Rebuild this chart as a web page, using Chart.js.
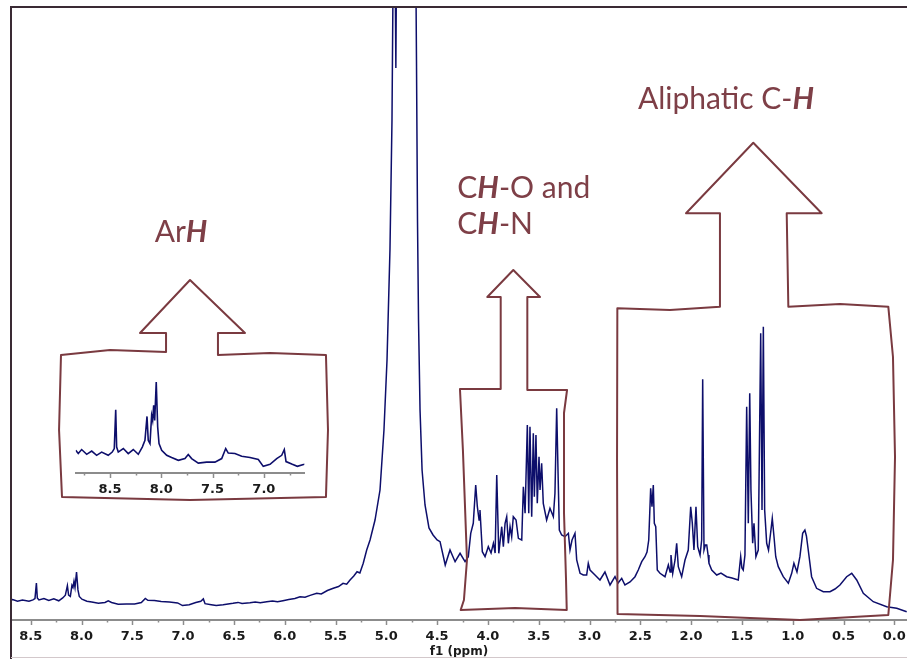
<!DOCTYPE html>
<html>
<head>
<meta charset="utf-8">
<title>1H NMR spectrum</title>
<script src="https://cdn.jsdelivr.net/npm/chart.js@4.4.1/dist/chart.umd.min.js"></script>
<style>
  html, body { margin: 0; padding: 0; background: #fff; }
  #wrap { position: relative; width: 907px; height: 659px; overflow: hidden; }
  #main  { position: absolute; left: 0; top: 0; }
  #inset { position: absolute; left: 70px; top: 360px; }
</style>
</head>
<body>
<div id="wrap">
  <canvas id="main" width="907" height="659"></canvas>
  <canvas id="inset" width="245" height="140"></canvas>
</div>
<script>
// ─────────────────────────────────────────────────────────────
// DATA  (chemical shift in ppm, intensity in arbitrary units)
// ─────────────────────────────────────────────────────────────
const SHIFT_PPM = [
  8.834, 8.809, 8.776, 8.727, 8.678, 8.63, 8.581, 8.517, 8.478, 8.458,
  8.444, 8.435, 8.419, 8.37, 8.322, 8.273, 8.224, 8.185, 8.159, 8.139,
  8.127, 8.11, 8.094, 8.084, 8.074, 8.064, 8.049, 8.035, 8.022, 7.996,
  7.947, 7.899, 7.834, 7.769, 7.737, 7.704, 7.639, 7.558, 7.477, 7.411,
  7.372, 7.347, 7.282, 7.216, 7.135, 7.054, 7.006, 6.94, 6.875, 6.826,
  6.801, 6.784, 6.723, 6.674, 6.606,
  6.509, 6.46, 6.42, 6.342, 6.29, 6.24, 6.177, 6.12, 6.07, 6.017,
  5.96, 5.9, 5.849, 5.8, 5.75, 5.685, 5.64, 5.58, 5.522, 5.47,
  5.426, 5.39, 5.357, 5.32, 5.288, 5.26, 5.227, 5.193, 5.16, 5.111,
  5.062, 5.023, 4.993, 4.964, 4.944, 4.929, 4.92, 4.912, 4.906, 4.90,
  4.89, 4.85, 4.80, 4.75, 4.72, 4.703, 4.693, 4.683, 4.668, 4.648,
  4.619, 4.58, 4.54, 4.50, 4.471, 4.42, 4.373, 4.323, 4.274, 4.225,
  4.193, 4.169, 4.144, 4.12, 4.104, 4.087, 4.078, 4.055, 4.028, 3.996,
  3.969, 3.946, 3.929, 3.913, 3.893, 3.864, 3.848, 3.831, 3.815, 3.799,
  3.782, 3.766, 3.75, 3.723, 3.70, 3.667, 3.651, 3.634, 3.612, 3.598,
  3.586, 3.569, 3.553, 3.543, 3.527, 3.514, 3.497, 3.487, 3.471, 3.455,
  3.422, 3.389, 3.356, 3.34, 3.323, 3.308, 3.297, 3.274, 3.241, 3.208,
  3.192, 3.172, 3.143, 3.126, 3.093, 3.061, 3.028, 3.012, 2.995, 2.946,
  2.897, 2.848, 2.798, 2.749, 2.719, 2.683, 2.651, 2.601, 2.552, 2.52,
  2.486, 2.454, 2.434, 2.417, 2.398, 2.385, 2.372, 2.362, 2.348, 2.333,
  2.306, 2.257, 2.224, 2.207, 2.198, 2.181, 2.158, 2.142, 2.126, 2.093,
  2.06, 2.028, 2.004, 1.988, 1.972, 1.952, 1.935, 1.912, 1.896, 1.886,
  1.873, 1.86, 1.846, 1.833, 1.824, 1.797, 1.748, 1.706, 1.65, 1.598,
  1.536, 1.512, 1.50, 1.487, 1.47, 1.453, 1.437, 1.423, 1.411, 1.394,
  1.381, 1.362, 1.339, 1.315, 1.302, 1.289, 1.276, 1.256, 1.238, 1.214,
  1.201, 1.184, 1.167, 1.142, 1.093, 1.043, 1.01, 0.988, 0.958, 0.929,
  0.902, 0.88, 0.865, 0.847, 0.814, 0.765, 0.699, 0.633, 0.584, 0.535,
  0.469, 0.419, 0.37, 0.305, 0.207, 0.075, -0.024, -0.122
];

const INTENSITY = [
  20.8, 19.5, 21.1, 19.2, 20.5, 18.8, 20.1, 18.8, 20.1, 21.5,
  37.0, 22.1, 20.1, 21.5, 19.5, 21.1, 19.2, 22.1, 24.8, 34.3,
  24.8, 23.5, 34.7, 32.7, 38.7, 32.7, 48.0, 30.1, 23.5, 20.8,
  18.8, 17.9, 16.8, 17.5, 19.1, 17.5, 15.7, 16.1, 16.1, 17.5,
  21.5, 19.7, 19.5, 18.4, 17.9, 17.1, 14.4, 15.2, 17.5, 18.8,
  21.1, 16.3, 15.2, 14.4, 15.2,
  16.7, 17.6, 16.5, 17.3, 18.1, 17.2, 18.3, 19.0, 18.2, 19.3,
  20.6, 21.5, 23.3, 22.8, 24.6, 26.7, 26.1, 29.5, 31.7, 33.5,
  36.7, 35.8, 40, 44, 48.3, 47, 56.7, 70, 80, 100,
  130, 190, 260, 370, 500, 700, 900, 640, 552, 650,
  900, 1200, 1300, 1100, 800, 560, 400, 300, 210, 150,
  115, 92, 85, 80, 78.3, 55, 70, 58.3, 66.7, 58.3,
  63.3, 86.7, 96.7, 135, 113.3, 100, 110, 68.3, 63.3, 73.3,
  67, 76.7, 67, 145, 66.7, 93.3, 73.3, 96.7, 103.3, 76.7,
  93.3, 83.3, 103.3, 100, 81.7, 80, 133.3, 106.7, 195, 106.7,
  193.3, 103.3, 186.7, 123.3, 185, 116.7, 163.3, 130, 156.7, 116.7,
  100, 111.7, 103.3, 126.7, 211.7, 140, 90, 85, 83.3, 86.7,
  70, 80, 86.7, 60, 46.7, 45, 45, 56.7, 50, 45,
  40, 48, 35, 43.3, 37, 41.7, 35, 38, 43.3, 50,
  58.3, 63.3, 68, 80, 131.7, 113.3, 135, 96.7, 93.3, 50,
  46.7, 43.3, 55, 48, 65, 46.7, 60, 76.7, 53.3, 43.3,
  60, 70, 113.3, 96.7, 70, 113.3, 73.3, 65, 80, 240.7,
  70, 75, 75, 65, 56.7, 50, 45, 47, 43.3, 42,
  40, 63.3, 52, 50, 65, 213.3, 96.7, 226.7, 130, 76.7,
  96.7, 63.3, 70, 286.7, 110, 293.3, 110, 76.7, 70, 90,
  101.7, 83.3, 63.3, 53.3, 43.3, 36.7, 46.7, 56.7, 48, 63.3,
  86.7, 90, 84, 70, 43.3, 31.7, 28.3, 28.3, 31, 35,
  43.3, 46.7, 40, 26.7, 18.3, 13.3, 11.7, 8.3
];

// labelled x ticks (ppm)
const MAIN_TICKS  = [8.5, 8.0, 7.5, 7.0, 6.5, 6.0, 5.5, 5.0, 4.5, 4.0, 3.5, 3.0, 2.5, 2.0, 1.5, 1.0, 0.5, 0.0];
const INSET_TICKS = [8.5, 8.0, 7.5, 7.0];

// ─────────────────────────────────────────────────────────────
// ANNOTATIONS (outlines given in ppm / intensity units)
// ─────────────────────────────────────────────────────────────
const ARH_CALLOUT = [
  [7.168, 268], [7.719, 270], [8.202, 265], [8.221, 190], [8.192, 123],
  [6.932, 120], [5.594, 123], [5.574, 190], [5.594, 265], [6.145, 267],
  [6.657, 265], [6.657, 287], [6.391, 287], [6.932, 340], [7.424, 287],
  [7.168, 287]
];
const CHO_CALLOUT = [
  [3.874, 231], [4.275, 231], [4.246, 170], [4.206, 60], [4.236, 20],
  [4.268, 10], [3.733, 12], [3.224, 10], [3.231, 40], [3.251, 107],
  [3.251, 207], [3.221, 230], [3.612, 230], [3.612, 323], [3.487, 323],
  [3.75, 350], [4.006, 323], [3.874, 323]
];
const ALIPH_CALLOUT = [
  [1.716, 313.3], [2.208, 310], [2.726, 311.7], [2.729, 160], [2.724, 6],
  [1.912, 4], [0.928, 0], [0.059, 5], [0.013, 60], [-0.007, 163],
  [0.013, 263], [0.059, 313.3], [0.534, 316], [1.043, 313.3], [1.059, 406.7],
  [0.715, 406.7], [1.388, 477.3], [2.05, 406.7], [1.716, 406.7]
];

const LABELS = [
  { ppm: 7.021, v: 378,   align: 'center', runs: [['Ar', 0], ['H', 1]] },
  { ppm: 4.301, v: 421.7, align: 'left',   runs: [['C', 0], ['H', 1], ['-O and', 0]] },
  { ppm: 4.301, v: 386,   align: 'left',   runs: [['C', 0], ['H', 1], ['-N', 0]] },
  { ppm: 2.523, v: 510.7, align: 'left',   runs: [['Aliphatic C-', 0], ['H', 1]] }
];

// ─────────────────────────────────────────────────────────────
// STYLE
// ─────────────────────────────────────────────────────────────
const LINE_COLOR    = '#0d0e6b';
const CALLOUT_COLOR = '#7a3a40';
const LABEL_COLOR   = '#7e3f47';
const AXIS_COLOR    = '#8c8c8c';
const TICK_FONT     = { family: "'DejaVu Sans', Verdana, sans-serif", weight: 'bold', size: 13 };

const points = SHIFT_PPM.map((p, i) => ({ x: p, y: INTENSITY[i] }));

const isMajor = v => Math.abs(v * 2 - Math.round(v * 2)) < 1e-6;

function tickList(majors, min, max) {
  const all = [];
  majors.forEach(m => [m - 0.25, m, m + 0.25].forEach(v => {
    if (v >= min && v <= max && !all.some(a => Math.abs(a - v) < 1e-6)) all.push(v);
  }));
  return all.sort((a, b) => a - b).map(v => ({ value: v }));
}

// ─────────────────────────────────────────────────────────────
// PLUGINS
// ─────────────────────────────────────────────────────────────
const tickMarks = {
  id: 'tickMarks',
  afterDraw(chart, args, opts) {
    const sc = chart.scales.x, ctx = chart.ctx;
    ctx.save();
    ctx.strokeStyle = AXIS_COLOR;
    ctx.lineWidth = 1.5;
    sc.ticks.forEach(t => {
      const px = Math.round(sc.getPixelForValue(t.value)) + 0.5;
      const len = isMajor(t.value) ? opts.major : opts.minor;
      ctx.beginPath();
      ctx.moveTo(px, sc.top);
      ctx.lineTo(px, sc.top + len);
      ctx.stroke();
    });
    ctx.restore();
  }
};

const frame = {
  id: 'frame',
  afterDraw(chart) {
    const { ctx, chartArea: { left, top }, width, height } = chart;
    ctx.save();
    ctx.strokeStyle = '#3a2a34';
    ctx.lineWidth = 2;
    ctx.beginPath();
    ctx.moveTo(left, height);
    ctx.lineTo(left, top);
    ctx.lineTo(width, top);
    ctx.stroke();
    ctx.strokeStyle = '#d3c8cb';
    ctx.lineWidth = 1;
    ctx.beginPath();
    ctx.moveTo(left, height - 1.5);
    ctx.lineTo(width, height - 1.5);
    ctx.stroke();
    ctx.restore();
  }
};

function drawRuns(ctx, runs, px, py, align) {
  const font = b => (b ? 'italic 700 ' : '400 ') + '30px Lato, sans-serif';
  let total = 0;
  runs.forEach(([t, b]) => { ctx.font = font(b); total += ctx.measureText(t).width; });
  let x = align === 'center' ? px - total / 2 : px;
  runs.forEach(([t, b]) => {
    ctx.font = font(b);
    ctx.fillText(t, x, py);
    x += ctx.measureText(t).width;
  });
}

const callouts = {
  id: 'callouts',
  afterDraw(chart) {
    const { ctx, scales: { x, y } } = chart;
    ctx.save();
    ctx.strokeStyle = CALLOUT_COLOR;
    ctx.lineWidth = 2;
    ctx.lineJoin = 'round';
    ctx.lineCap = 'round';
    [ARH_CALLOUT, CHO_CALLOUT, ALIPH_CALLOUT].forEach(shape => {
      ctx.beginPath();
      shape.forEach(([p, v], i) => {
        const px = x.getPixelForValue(p), py = y.getPixelForValue(v);
        if (i) ctx.lineTo(px, py); else ctx.moveTo(px, py);
      });
      ctx.closePath();
      ctx.stroke();
    });
    ctx.fillStyle = LABEL_COLOR;
    ctx.textBaseline = 'alphabetic';
    ctx.textAlign = 'left';
    LABELS.forEach(l => drawRuns(ctx, l.runs, x.getPixelForValue(l.ppm), y.getPixelForValue(l.v), l.align));
    ctx.restore();
  }
};

// ─────────────────────────────────────────────────────────────
// CHARTS
// ─────────────────────────────────────────────────────────────
function buildConfig({ xMin, xMax, yMin, yMax, majors, padding, axisHeight, labelPad, title, lineWidth }) {
  return {
    type: 'line',
    data: {
      datasets: [{
        data: points,
        borderColor: LINE_COLOR,
        borderWidth: lineWidth,
        pointRadius: 0,
        tension: 0,
        fill: false
      }]
    },
    options: {
      responsive: false,
      animation: false,
      events: [],
      layout: { padding },
      plugins: {
        legend: { display: false },
        tooltip: { enabled: false },
        tickMarks: { major: 5, minor: 2.5 }
      },
      scales: {
        x: {
          type: 'linear',
          reverse: true,
          min: xMin,
          max: xMax,
          afterBuildTicks: s => { s.ticks = tickList(majors, xMin, xMax); },
          afterFit: s => { s.height = axisHeight; },
          grid: { display: true, drawOnChartArea: false, drawTicks: true, tickLength: 5, color: 'rgba(0,0,0,0)' },
          border: { display: true, color: AXIS_COLOR, width: 2 },
          ticks: {
            autoSkip: false,
            maxRotation: 0,
            padding: labelPad,
            color: '#1a1a1a',
            font: TICK_FONT,
            callback: v => isMajor(v) ? Number(v).toFixed(1) : ''
          },
          title: title
            ? { display: true, text: title, color: '#1a1a1a', padding: 0,
                font: { family: TICK_FONT.family, weight: 'bold', size: 12 } }
            : { display: false }
        },
        y: { display: false, min: yMin, max: yMax }
      }
    },
    plugins: [tickMarks]
  };
}

const mainCfg = buildConfig({
  xMin: -0.125, xMax: 8.694, yMin: 0, yMax: 613,
  majors: MAIN_TICKS,
  padding: { left: 11, top: 7, right: 0, bottom: 0 },
  axisHeight: 39, labelPad: 4, title: 'f1 (ppm)', lineWidth: 1.5
});
mainCfg.plugins.push(callouts, frame);
new Chart(document.getElementById('main'), mainCfg);

new Chart(document.getElementById('inset'), buildConfig({
  xMin: 6.606, xMax: 8.834, yMin: 11.75, yMax: 54.8,
  majors: INSET_TICKS,
  padding: { left: 5.7, top: 5, right: 10.7, bottom: 0 },
  axisHeight: 27, labelPad: 4, title: null, lineWidth: 1.6
}));
</script>
</body>
</html>
